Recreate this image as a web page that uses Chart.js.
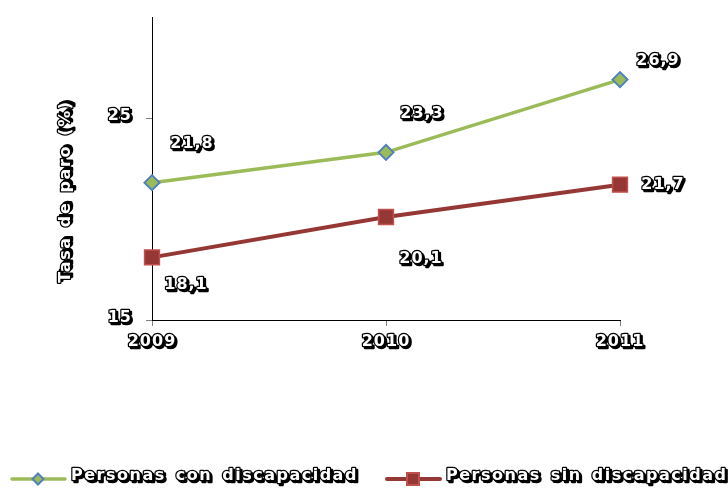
<!DOCTYPE html>
<html>
<head>
<meta charset="utf-8">
<script src="https://cdn.jsdelivr.net/npm/chart.js@4/dist/chart.umd.min.js"></script>
<style>
  html, body { margin: 0; padding: 0; background: #fff; }
  canvas { display: block; }
</style>
</head>
<body>
<canvas id="c" width="728" height="489"></canvas>
<script>
// Tasa de paro por año
const years = ['2009', '2010', '2011'];
const conDiscapacidad = [21.8, 23.3, 26.9];
const sinDiscapacidad = [18.1, 20.1, 21.7];
const seriesNames = ['Personas con discapacidad', 'Personas sin discapacidad'];
const yTicks = [15, 25];
const yTitle = 'Tasa de paro (%)';

const FONT = 'bold 16px "DejaVu Sans"';

// White text with black outline and a hard drop shadow
function fancyText(ctx, text, x, y, align, rotate, spacing) {
  ctx.save();
  ctx.translate(x, y);
  if (rotate) ctx.rotate(rotate);
  ctx.font = FONT;
  ctx.letterSpacing = (spacing ? spacing[0] : 1) + 'px';
  ctx.wordSpacing = (spacing ? spacing[1] : 0) + 'px';
  ctx.textAlign = align || 'center';
  ctx.textBaseline = 'middle';
  ctx.lineJoin = 'round';
  // shadow
  ctx.fillStyle = '#000';
  ctx.strokeStyle = '#000';
  ctx.lineWidth = 2.5;
  ctx.strokeText(text, 2, 2);
  ctx.fillText(text, 2, 2);
  // outline + fill
  ctx.lineWidth = 2.5;
  ctx.strokeText(text, 0, 0);
  ctx.fillStyle = '#fff';
  ctx.fillText(text, 0, 0);
  ctx.restore();
}

const textPlugin = {
  id: 'fancyLabels',
  afterDraw(chart, args, opts) {
    const ctx = chart.ctx;
    const xs = chart.scales.x, ys = chart.scales.y;
    // y tick labels
    ys.ticks.forEach((t, i) => {
      fancyText(ctx, String(t.value), ys.right - 20, ys.getPixelForTick(i) - 2, 'right');
    });
    // x tick labels
    chart.data.labels.forEach((lab, i) => {
      fancyText(ctx, lab, xs.getPixelForTick(i), xs.top + 22, 'center');
    });
    // y title
    fancyText(ctx, yTitle, opts.titleX, (ys.top + ys.bottom) / 2 + opts.titleShift, 'center', -Math.PI / 2, [1.6, 2]);
    // point value labels
    chart.data.datasets.forEach((ds, di) => {
      const meta = chart.getDatasetMeta(di);
      meta.data.forEach((pt, i) => {
        const off = opts.offsets[di][i];
        fancyText(ctx, ds.data[i].toFixed(1).replace('.', ','), pt.x + off[0], pt.y + off[1], 'center');
      });
    });
    // legend
    chart.data.datasets.forEach((ds, di) => {
      const L = opts.legend[di];
      const cx = L.x + 26;
      ctx.save();
      ctx.strokeStyle = ds.borderColor;
      ctx.lineWidth = ds.borderWidth;
      ctx.lineCap = 'round';
      ctx.beginPath();
      ctx.moveTo(L.x, L.y);
      ctx.lineTo(L.x + 53, L.y);
      ctx.stroke();
      ctx.fillStyle = ds.pointBackgroundColor;
      ctx.strokeStyle = ds.pointBorderColor;
      ctx.lineWidth = 2;
      ctx.beginPath();
      if (ds.pointStyle === 'rectRot') {
        ctx.moveTo(cx, L.y - L.r);
        ctx.lineTo(cx + L.r, L.y);
        ctx.lineTo(cx, L.y + L.r);
        ctx.lineTo(cx - L.r, L.y);
        ctx.closePath();
      } else {
        ctx.rect(cx - L.r, L.y - L.r, 2 * L.r, 2 * L.r);
      }
      ctx.fill();
      ctx.stroke();
      ctx.restore();
      fancyText(ctx, ds.label, L.x + 59, L.y - 3, 'left', 0, [1.5, 3]);
    });
  }
};

new Chart(document.getElementById('c'), {
  type: 'line',
  data: {
    labels: years,
    datasets: [{
      label: seriesNames[0],
      data: conDiscapacidad,
      borderColor: '#9BBB59',
      borderWidth: 3.5,
      pointStyle: 'rectRot',
      pointRadius: 7.5,
      pointBackgroundColor: '#9BBB59',
      pointBorderColor: '#4F81BD',
      pointBorderWidth: 2,
      tension: 0
    }, {
      label: seriesNames[1],
      data: sinDiscapacidad,
      borderColor: '#953735',
      borderWidth: 4,
      pointStyle: 'rect',
      pointRadius: 10.5,
      pointBackgroundColor: '#953735',
      pointBorderColor: '#C0504D',
      pointBorderWidth: 1.5,
      tension: 0
    }]
  },
  options: {
    responsive: false,
    animation: false,
    layout: { padding: { top: 17, right: 108, left: 0, bottom: 139 } },
    plugins: {
      legend: { display: false },
      tooltip: { enabled: false },
      fancyLabels: {
        titleX: 66,
        titleShift: 23,
        offsets: [
          [[40, -39], [36, -38], [38, -19]],
          [[34, 27], [35, 42], [43, 0]]
        ],
        legend: [
          { x: 12, y: 479, r: 5.5 },
          { x: 387, y: 479, r: 6 }
        ]
      }
    },
    scales: {
      x: {
        type: 'category',
        offset: false,
        afterFit(s) { s.height = 30; },
        grid: { drawOnChartArea: false, drawTicks: true, tickLength: 6, color: '#808080' },
        border: { color: '#000', width: 1 },
        ticks: { color: 'rgba(0,0,0,0)', font: { size: 16 } }
      },
      y: {
        min: 15,
        max: 30,
        afterBuildTicks(s) { s.ticks = yTicks.map(v => ({ value: v })); },
        afterFit(s) { s.width = 152; },
        grid: { drawOnChartArea: false, drawTicks: true, tickLength: 6, color: '#808080' },
        border: { color: '#000', width: 1 },
        ticks: { color: 'rgba(0,0,0,0)', font: { size: 16 } }
      }
    }
  },
  plugins: [textPlugin]
});
</script>
</body>
</html>
